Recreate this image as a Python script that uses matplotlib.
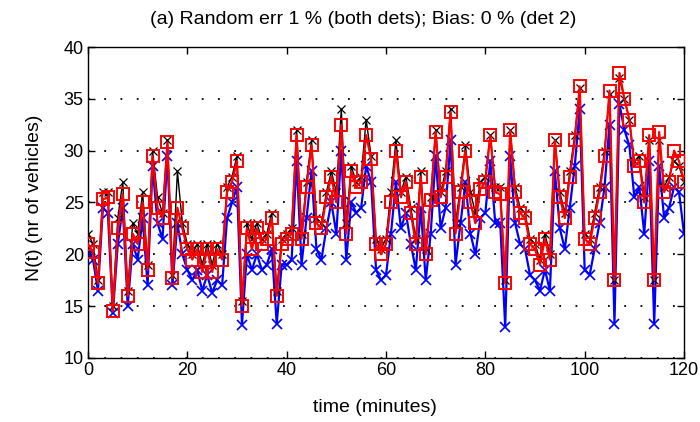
import numpy as np
import matplotlib
matplotlib.use("Agg")
import matplotlib.pyplot as plt

plt.rcParams['font.family'] = ['Liberation Sans', 'DejaVu Sans']

# time in minutes
t = list(range(0, 121))

# detector / estimate series (approximate)
red = [21, 20.2, 17.2, 25.3, 25.5, 14.5, 22.5, 25.8, 16, 22,
       21, 25, 18.5, 29.5, 24.5, 23.5, 30.8, 17.7, 24.5, 22.5,
       20.5, 19.5, 20.5, 18.3, 20.5, 18.3, 20.5, 19.5, 26, 27,
       29, 15, 22.5, 20.5, 22.5, 21, 21.5, 23.5, 16, 21,
       21.5, 22, 31.5, 21.5, 26.5, 30.5, 23, 22.5, 25.5, 27.5,
       25, 32.5, 22, 28, 26.5, 27, 31.5, 29.2, 21, 20,
       21, 25, 30, 25.5, 27, 24, 21, 27.5, 20, 25.2,
       31.8, 25.5, 27.5, 33.7, 22, 26, 30, 25, 23, 26.3,
       27, 31.5, 26, 25.8, 17.2, 32, 26, 24, 23.5, 21,
       20.5, 19, 21.5, 19.5, 31, 25.5, 23.5, 27.5, 31, 36.2,
       21.5, 21, 23.5, 26, 29.5, 35.8, 17.5, 37.5, 35, 33,
       28.5, 29, 25, 31.5, 17.5, 31.8, 26, 27, 30, 29,
       27]

black = [22, 21, 17.5, 26, 26, 15, 23.5, 27, 16.5, 23,
         22, 26, 19, 30, 25.5, 24, 31, 18, 28, 23,
         21, 20, 21, 19, 21, 19, 21, 20, 26.5, 27.5,
         29.5, 15.5, 23, 21.5, 23, 21.5, 22, 24, 16.5, 21.5,
         22, 22.5, 32, 22, 27, 31, 23.5, 23, 26, 28,
         26, 34, 23, 28.5, 27, 27.5, 33, 29.5, 21.5, 20.5,
         21.5, 26, 31, 26, 27.5, 24.5, 21.5, 28, 20.5, 25.5,
         32, 26, 28, 34, 23, 26.5, 30.5, 26, 24, 27,
         27.5, 31.5, 26.5, 26.5, 17.5, 32, 26.5, 24.5, 24, 21.5,
         21, 19.5, 22, 20, 31, 26, 24, 28, 31.5, 36,
         22, 21.5, 24, 26.5, 30, 35.5, 17.5, 37, 35, 33,
         29, 29.5, 25.5, 31, 17.5, 31, 26.5, 27.5, 29, 28.5,
         27]

blue = [20.5, 19.5, 16.5, 24.5, 24, 14.3, 21, 24.5, 15, 21,
        19.5, 23.5, 17, 28.5, 23, 21.5, 29.5, 17, 23, 20,
        18.5, 17.5, 18.5, 16.5, 18, 16.3, 17.5, 17, 23.5, 25,
        26.5, 13.2, 20, 18.5, 20, 18.5, 19, 20.5, 13.3, 19,
        19, 19.5, 29, 19, 23.5, 28, 20.5, 19.5, 22.5, 25,
        22, 30, 19.5, 25, 24, 24.5, 28.5, 27, 18.5, 17.5,
        18, 22, 27, 22.5, 24, 21, 18.5, 24.5, 17.5, 22,
        29.5, 22.5, 24.5, 31, 19, 23, 27, 22, 20, 23.5,
        24, 29, 23, 23, 13, 29.5, 23, 21, 20.5, 18,
        17.5, 16.5, 18.5, 16.5, 28, 22.5, 20.5, 24.5, 28.5, 34,
        18.5, 18, 20.5, 23, 26.5, 32.5, 13.3, 34.5, 32, 30.5,
        25.5, 26.5, 22, 29, 13.3, 28.5, 23.5, 24.5, 26.5, 26,
        22]

x_ticks = [0, 20, 40, 60, 80, 100, 120]
y_ticks = [10, 15, 20, 25, 30, 35, 40]

fig = plt.figure(figsize=(7.0, 4.22), dpi=100)
ax = fig.add_axes([88/700, 1 - 358/422, (684 - 88)/700, (358 - 47)/422])

ax.plot(t, blue, color='blue', lw=1.6, marker='x', ms=7, mew=1.2, zorder=2)
ax.plot(t, black, color='black', lw=1.0, marker='x', ms=6, mew=0.9, zorder=3)
ax.plot(t, red, color='red', lw=1.6, marker='s', ms=9, mfc='none', mec='red', mew=1.4, zorder=4)

ax.set_xlim(0, 120)
ax.set_ylim(10, 40)
ax.set_xticks(x_ticks)
ax.set_yticks(y_ticks)
ax.tick_params(direction='in', top=True, right=True, length=5, width=1, labelsize=13, pad=3)
ax.yaxis.grid(True, linestyle=(0, (1, 8)), color='black', lw=1.3)
ax.set_axisbelow(True)
for s in ax.spines.values():
    s.set_linewidth(1.0)

fig.text(363/700, 1 - 20/422, '(a) Random err 1 % (both dets); Bias: 0 % (det 2)',
         ha='center', va='center', fontsize=14)
fig.text(375/700, 1 - 408/422, 'time (minutes)', ha='center', va='center', fontsize=14)
fig.text(35/700, 1 - 198/422, 'N(t) (nr of vehicles)', ha='center', va='center',
         rotation=90, fontsize=14)

fig.savefig('out.png', dpi=100)
